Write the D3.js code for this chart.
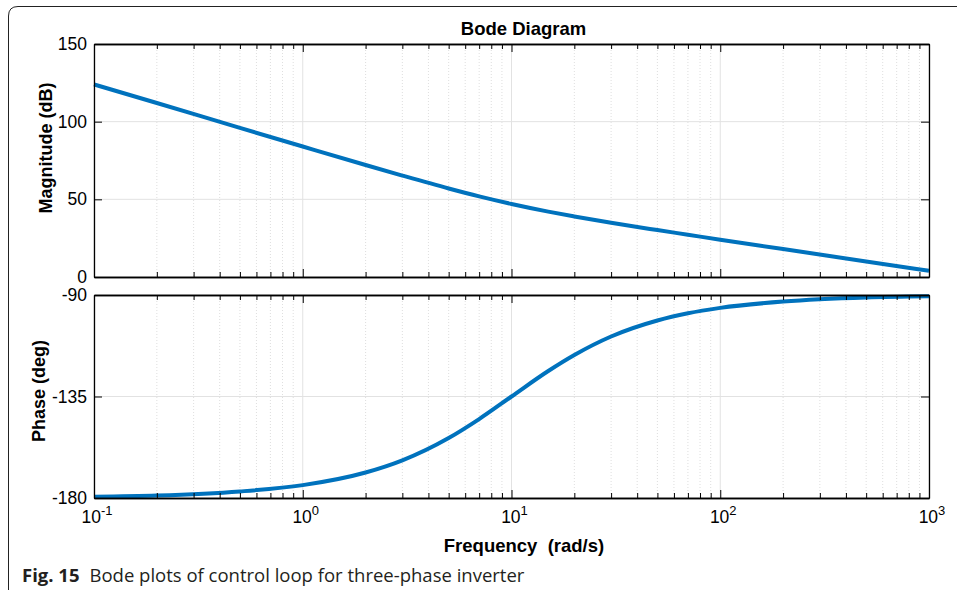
<!DOCTYPE html>
<html>
<head>
<meta charset="utf-8">
<script src="https://cdn.jsdelivr.net/npm/d3@7"></script>
<style>
  body { margin: 0; background: #fff; }
  svg text { font-family: "Liberation Sans", Arial, Helvetica, sans-serif; fill: #000; }
</style>
</head>
<body>
<div id="chart"></div>
<script>
// 读图得到的数据
var freq = [0.1, 0.2, 0.5, 1, 2, 3, 5, 7, 10, 15, 20, 30, 50, 70, 100, 200, 500, 1000];
var magDB = [124, 112, 96, 84, 72.1, 65.3, 57, 51.9, 47, 42.1, 39, 34.9, 30.2, 27.2, 24, 18, 10, 4];
var phaseDeg = [-179.4, -178.9, -177.1, -174.3, -168.7, -163.3, -153.4, -145, -135, -123.7, -116.6, -108.4, -101.3, -98.1, -95.7, -92.9, -91.1, -90.6];
var magTicks = [0, 50, 100, 150];
var phaseTicks = [-180, -135, -90];
var decades = [-1, 0, 1, 2, 3];

var W = 957, H = 591;
var plotL = 94, plotR = 929;
var magBox = { top: 44, bottom: 277 };
var phBox = { top: 295, bottom: 498 };
var lineColor = "#0072BD";
var FONT = "'Liberation Sans', Arial, Helvetica, sans-serif";

var svg = d3.select("#chart").append("svg")
  .attr("width", W).attr("height", H);

// 外框（左上圆角）
svg.append("path")
  .attr("d", "M 8.5 590 L 8.5 16 Q 8.5 6.5 18 6.5 L 957 6.5")
  .attr("fill", "none").attr("stroke", "#222").attr("stroke-width", 1);

var x = d3.scaleLog().domain([0.1, 1000]).range([plotL, plotR]);
var yMag = d3.scaleLinear().domain([0, 150]).range([magBox.bottom, magBox.top]);
var yPh = d3.scaleLinear().domain([-180, -90]).range([phBox.bottom, phBox.top]);

// 次刻度
var minor = [];
for (var e = -1; e < 3; e++) {
  for (var k = 2; k <= 9; k++) minor.push(k * Math.pow(10, e));
}
var major = decades.map(d => Math.pow(10, d));

function drawPanel(box, y, ticks, data, label, labelX, labelY, showX) {
  var g = svg.append("g");
  // 网格
  g.selectAll(".gmin").data(minor).join("line")
    .attr("x1", d => x(d)).attr("x2", d => x(d))
    .attr("y1", box.top).attr("y2", box.bottom)
    .attr("stroke", "#d6d6d6").attr("stroke-width", 0.8).attr("stroke-dasharray", "1,2");
  g.selectAll(".gmaj").data(major).join("line")
    .attr("x1", d => x(d)).attr("x2", d => x(d))
    .attr("y1", box.top).attr("y2", box.bottom)
    .attr("stroke", "#e2e2e2").attr("stroke-width", 1);
  g.selectAll(".gy").data(ticks).join("line")
    .attr("x1", plotL).attr("x2", plotR)
    .attr("y1", d => y(d)).attr("y2", d => y(d))
    .attr("stroke", "#e2e2e2").attr("stroke-width", 1);

  // 曲线
  var line = d3.line()
    .x((d, i) => x(freq[i]))
    .y(d => y(d))
    .curve(d3.curveMonotoneX);
  g.append("path").datum(data)
    .attr("d", line)
    .attr("fill", "none").attr("stroke", lineColor).attr("stroke-width", 4);

  // 坐标轴（刻度朝内）
  var axL = d3.axisLeft(y).tickValues(ticks).tickSizeInner(-8).tickSizeOuter(0).tickPadding(7).tickFormat(d => String(d));
  var axR = d3.axisRight(y).tickValues(ticks).tickSizeInner(-8).tickSizeOuter(0).tickFormat("");
  var axT = d3.axisTop(x).tickValues(major).tickSizeInner(-8).tickSizeOuter(0).tickFormat("");
  var axB = d3.axisBottom(x).tickValues(major).tickSizeInner(-8).tickSizeOuter(0).tickFormat("");
  var axTm = d3.axisTop(x).tickValues(minor).tickSizeInner(-5).tickSizeOuter(0).tickFormat("");
  var axBm = d3.axisBottom(x).tickValues(minor).tickSizeInner(-5).tickSizeOuter(0).tickFormat("");

  g.append("g").attr("transform", `translate(${plotL},0)`).call(axL);
  g.append("g").attr("transform", `translate(${plotR},0)`).call(axR);
  g.append("g").attr("transform", `translate(0,${box.top})`).call(axT);
  g.append("g").attr("transform", `translate(0,${box.top})`).call(axTm);
  g.append("g").attr("transform", `translate(0,${box.bottom})`).call(axB);
  g.append("g").attr("transform", `translate(0,${box.bottom})`).call(axBm);

  g.selectAll(".domain").attr("stroke", "#000").attr("stroke-width", 1.3);
  g.selectAll(".tick line").attr("stroke", "#000").attr("stroke-width", 1);
  g.selectAll(".tick text").style("font-size", "17.5px").style("font-family", FONT).style("fill", "#000");

  // y 轴标题
  g.append("text")
    .attr("transform", `translate(${labelX},${labelY}) rotate(-90)`)
    .attr("text-anchor", "middle")
    .style("font-size", "18px").style("font-weight", "bold").style("font-family", FONT)
    .text(label);

  if (showX) {
    var lab = g.selectAll(".xl").data(decades).join("text")
      .attr("x", d => x(Math.pow(10, d)) + 3)
      .attr("y", box.bottom + 25)
      .attr("text-anchor", "middle")
      .style("font-size", "17.5px").style("font-family", FONT);
    lab.append("tspan").text("10");
    lab.append("tspan").attr("dy", -8).style("font-size", "13px").text(d => d);
  }
}

drawPanel(magBox, yMag, magTicks, magDB, "Magnitude (dB)", 52, 148, false);
drawPanel(phBox, yPh, phaseTicks, phaseDeg, "Phase (deg)", 45, 391, true);

// 标题
svg.append("text")
  .attr("x", 523.5).attr("y", 35)
  .attr("text-anchor", "middle")
  .style("font-size", "18.5px").style("font-weight", "bold").style("font-family", FONT)
  .text("Bode Diagram");

svg.append("text")
  .attr("x", 524).attr("y", 552)
  .attr("text-anchor", "middle")
  .style("font-size", "18.5px").style("font-weight", "bold").style("font-family", FONT)
  .style("white-space", "pre")
  .text("Frequency  (rad/s)");

// 图注
var cap = svg.append("text")
  .attr("x", 22).attr("y", 582)
  .style("font-size", "18.5px")
  .style("font-family", "'Open Sans', 'Noto Sans', sans-serif")
  .style("fill", "#231f20");
cap.append("tspan").style("font-weight", "bold").text("Fig. 15");
cap.append("tspan").attr("dx", 10).text("Bode plots of control loop for three-phase inverter");
</script>
</body>
</html>
